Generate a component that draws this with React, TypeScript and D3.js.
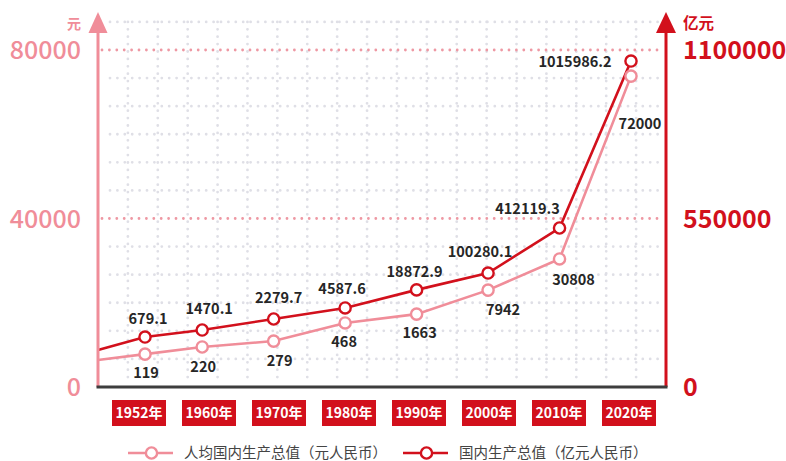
import React, { useEffect, useRef } from "react";
import * as d3 from "d3";

// years shown on the chart
const years = [1952, 1960, 1970, 1980, 1990, 2000, 2010, 2020];

// 人均国内生产总值 (元) - label values
const perCapitaLabels = ["119", "220", "279", "468", "1663", "7942", "30808", "72000"];
// 国内生产总值 (亿元) - label values
const gdpLabels = ["679.1", "1470.1", "2279.7", "4587.6", "18872.9", "100280.1", "412119.3", "1015986.2"];

// plotted heights (the chart is illustrative, not to scale)
const perCapitaLevel = [7800, 9500, 10900, 15200, 17300, 23000, 30400, 73800];
const gdpLevel = [163000, 186000, 222000, 258000, 317000, 372000, 519000, 1064000];
// where each line enters at the left axis
const perCapitaStart = 6400;
const gdpStart = 120800;

const leftTicks = [0, 40000, 80000];
const rightTicks = [0, 550000, 1100000];

const PINK = "#f08d99";
const RED = "#d2101c";
const FONT = "'Noto Sans CJK SC', 'Noto Sans', sans-serif";

// label offsets from their marker (layout only)
const gdpLabelDx = [3, 7, 5, -3, -2, -8, -32, -56];
const gdpLabelDy = [-18, -21, -21, -19, -18, -21, -19, 1];
const pcLabelDx = [1, 1, 6, -1, 3, 15, 14, 9];
const pcLabelDy = [19, 20, 20, 19, 19, 20, 21, 48];

export default function App() {
  const ref = useRef<SVGSVGElement>(null);

  useEffect(() => {
    const svg = d3.select(ref.current);
    svg.selectAll("*").remove();

    const left = 98, right = 666, bottom = 387, top80 = 50;

    const yLeft = d3.scaleLinear().domain([0, 80000]).range([bottom, top80]);
    const yRight = d3.scaleLinear().domain([0, 1100000]).range([bottom, top80]);
    const x = d3.scaleLinear().domain([1952, 2020]).range([145, 631]);
    const xBox = d3.scalePoint<number>().domain(years).range([139, 629]);
    const xCol = d3.scaleLinear().domain([0, 19]).range([left, right]);

    // grid
    const grid = svg.append("g");
    d3.range(1, 19).forEach(i => {
      grid.append("line")
        .attr("x1", xCol(i)).attr("x2", xCol(i))
        .attr("y1", yLeft(80000 / 12 * 13)).attr("y2", bottom - 4)
        .attr("stroke", "#dfdfe6").attr("stroke-width", 2.8)
        .attr("stroke-linecap", "round").attr("stroke-dasharray", "0 7.4");
    });
    d3.range(1, 14).forEach(k => {
      const strong = k === 6 || k === 12;
      grid.append("line")
        .attr("x1", left + (strong ? 4 : 12)).attr("x2", right - 4)
        .attr("y1", yLeft(80000 / 12 * k)).attr("y2", yLeft(80000 / 12 * k))
        .attr("stroke", strong ? "#ee98a3" : "#dfdfe6").attr("stroke-width", 2.8)
        .attr("stroke-linecap", "round").attr("stroke-dasharray", "0 7.4");
    });

    // lines
    const line = d3.line<[number, number]>().x(d => d[0]).y(d => d[1]);
    const pcPts: [number, number][] = years.map((yr, i) => [x(yr), yLeft(perCapitaLevel[i])]);
    const gdpPts: [number, number][] = years.map((yr, i) => [x(yr), yRight(gdpLevel[i])]);

    svg.append("path")
      .attr("d", line([[left, yLeft(perCapitaStart)], ...pcPts]))
      .attr("fill", "none").attr("stroke", PINK).attr("stroke-width", 2.6);
    svg.append("path")
      .attr("d", line([[left, yRight(gdpStart)], ...gdpPts]))
      .attr("fill", "none").attr("stroke", RED).attr("stroke-width", 2.6);

    svg.selectAll(".pc-dot").data(pcPts).enter().append("circle")
      .attr("cx", d => d[0]).attr("cy", d => d[1]).attr("r", 5.6)
      .attr("fill", "#fff").attr("stroke", PINK).attr("stroke-width", 2.4);
    svg.selectAll(".gdp-dot").data(gdpPts).enter().append("circle")
      .attr("cx", d => d[0]).attr("cy", d => d[1]).attr("r", 5.6)
      .attr("fill", "#fff").attr("stroke", RED).attr("stroke-width", 2.4);

    // value labels
    const labels = svg.append("g")
      .attr("font-family", FONT).attr("font-size", 14.5).attr("font-weight", 700)
      .attr("fill", "#262626").attr("text-anchor", "middle");
    gdpPts.forEach((p, i) => {
      labels.append("text")
        .attr("x", p[0] + gdpLabelDx[i]).attr("y", p[1] + gdpLabelDy[i])
        .attr("dy", "0.35em").text(gdpLabels[i]);
    });
    pcPts.forEach((p, i) => {
      labels.append("text")
        .attr("x", p[0] + pcLabelDx[i]).attr("y", p[1] + pcLabelDy[i])
        .attr("dy", "0.35em").text(perCapitaLabels[i]);
    });

    // axes
    svg.append("line")
      .attr("x1", left).attr("x2", left).attr("y1", 30).attr("y2", bottom)
      .attr("stroke", PINK).attr("stroke-width", 3);
    svg.append("path")
      .attr("d", `M${left},12 L${left + 9.5},33 L${left - 9.5},33 Z`).attr("fill", PINK);
    svg.append("line")
      .attr("x1", right).attr("x2", right).attr("y1", 30).attr("y2", bottom)
      .attr("stroke", RED).attr("stroke-width", 3);
    svg.append("path")
      .attr("d", `M${right},12 L${right + 10},33 L${right - 10},33 Z`).attr("fill", RED);
    svg.append("line")
      .attr("x1", left - 1.5).attr("x2", right + 1.5).attr("y1", bottom).attr("y2", bottom)
      .attr("stroke", "#3d3d3d").attr("stroke-width", 3);

    // tick labels
    svg.append("g").selectAll("text").data(leftTicks).enter().append("text")
      .attr("x", 81).attr("y", d => yLeft(d)).attr("dy", "0.36em")
      .attr("text-anchor", "end").attr("font-family", FONT).attr("font-size", 25)
      .attr("font-weight", 500).attr("fill", PINK).text(d => String(d));
    svg.append("g").selectAll("text").data(rightTicks).enter().append("text")
      .attr("x", 683).attr("y", d => yRight(d)).attr("dy", "0.36em")
      .attr("text-anchor", "start").attr("font-family", FONT).attr("font-size", 25)
      .attr("font-weight", 700).attr("fill", RED).text(d => String(d));

    svg.append("text").attr("x", 81).attr("y", 24).attr("dy", "0.36em")
      .attr("text-anchor", "end").attr("font-family", FONT).attr("font-size", 14)
      .attr("font-weight", 700).attr("fill", PINK).text("元");
    svg.append("text").attr("x", 683).attr("y", 23).attr("dy", "0.36em")
      .attr("text-anchor", "start").attr("font-family", FONT).attr("font-size", 15.5)
      .attr("font-weight", 700).attr("fill", RED).text("亿元");

    // year boxes
    const boxes = svg.append("g").selectAll("g").data(years).enter().append("g")
      .attr("transform", d => `translate(${xBox(d)},413)`);
    boxes.append("rect").attr("x", -27).attr("y", -13).attr("width", 54).attr("height", 26)
      .attr("fill", RED);
    boxes.append("text").attr("text-anchor", "middle").attr("dy", "0.36em")
      .attr("font-family", FONT).attr("font-size", 14).attr("font-weight", 700)
      .attr("fill", "#fff").text(d => d + "年");

    // legend
    const legend = [
      { label: "人均国内生产总值（元人民币）", color: PINK, x: 128 },
      { label: "国内生产总值（亿元人民币）", color: RED, x: 403 },
    ];
    const lg = svg.append("g").selectAll("g").data(legend).enter().append("g")
      .attr("transform", d => `translate(${d.x},453)`);
    lg.append("line").attr("x1", 0).attr("x2", 45).attr("stroke", d => d.color).attr("stroke-width", 2.6);
    lg.append("circle").attr("cx", 23.5).attr("r", 5.6).attr("fill", "#fff")
      .attr("stroke", d => d.color).attr("stroke-width", 2.4);
    lg.append("text").attr("x", 56).attr("dy", "0.36em")
      .attr("font-family", FONT).attr("font-size", 14.5).attr("fill", "#444")
      .text(d => d.label);
  }, []);

  return (
    <svg ref={ref} width={786} height={461}
      style={{ position: "absolute", left: 0, top: 0, background: "#fff" }} />
  );
}
